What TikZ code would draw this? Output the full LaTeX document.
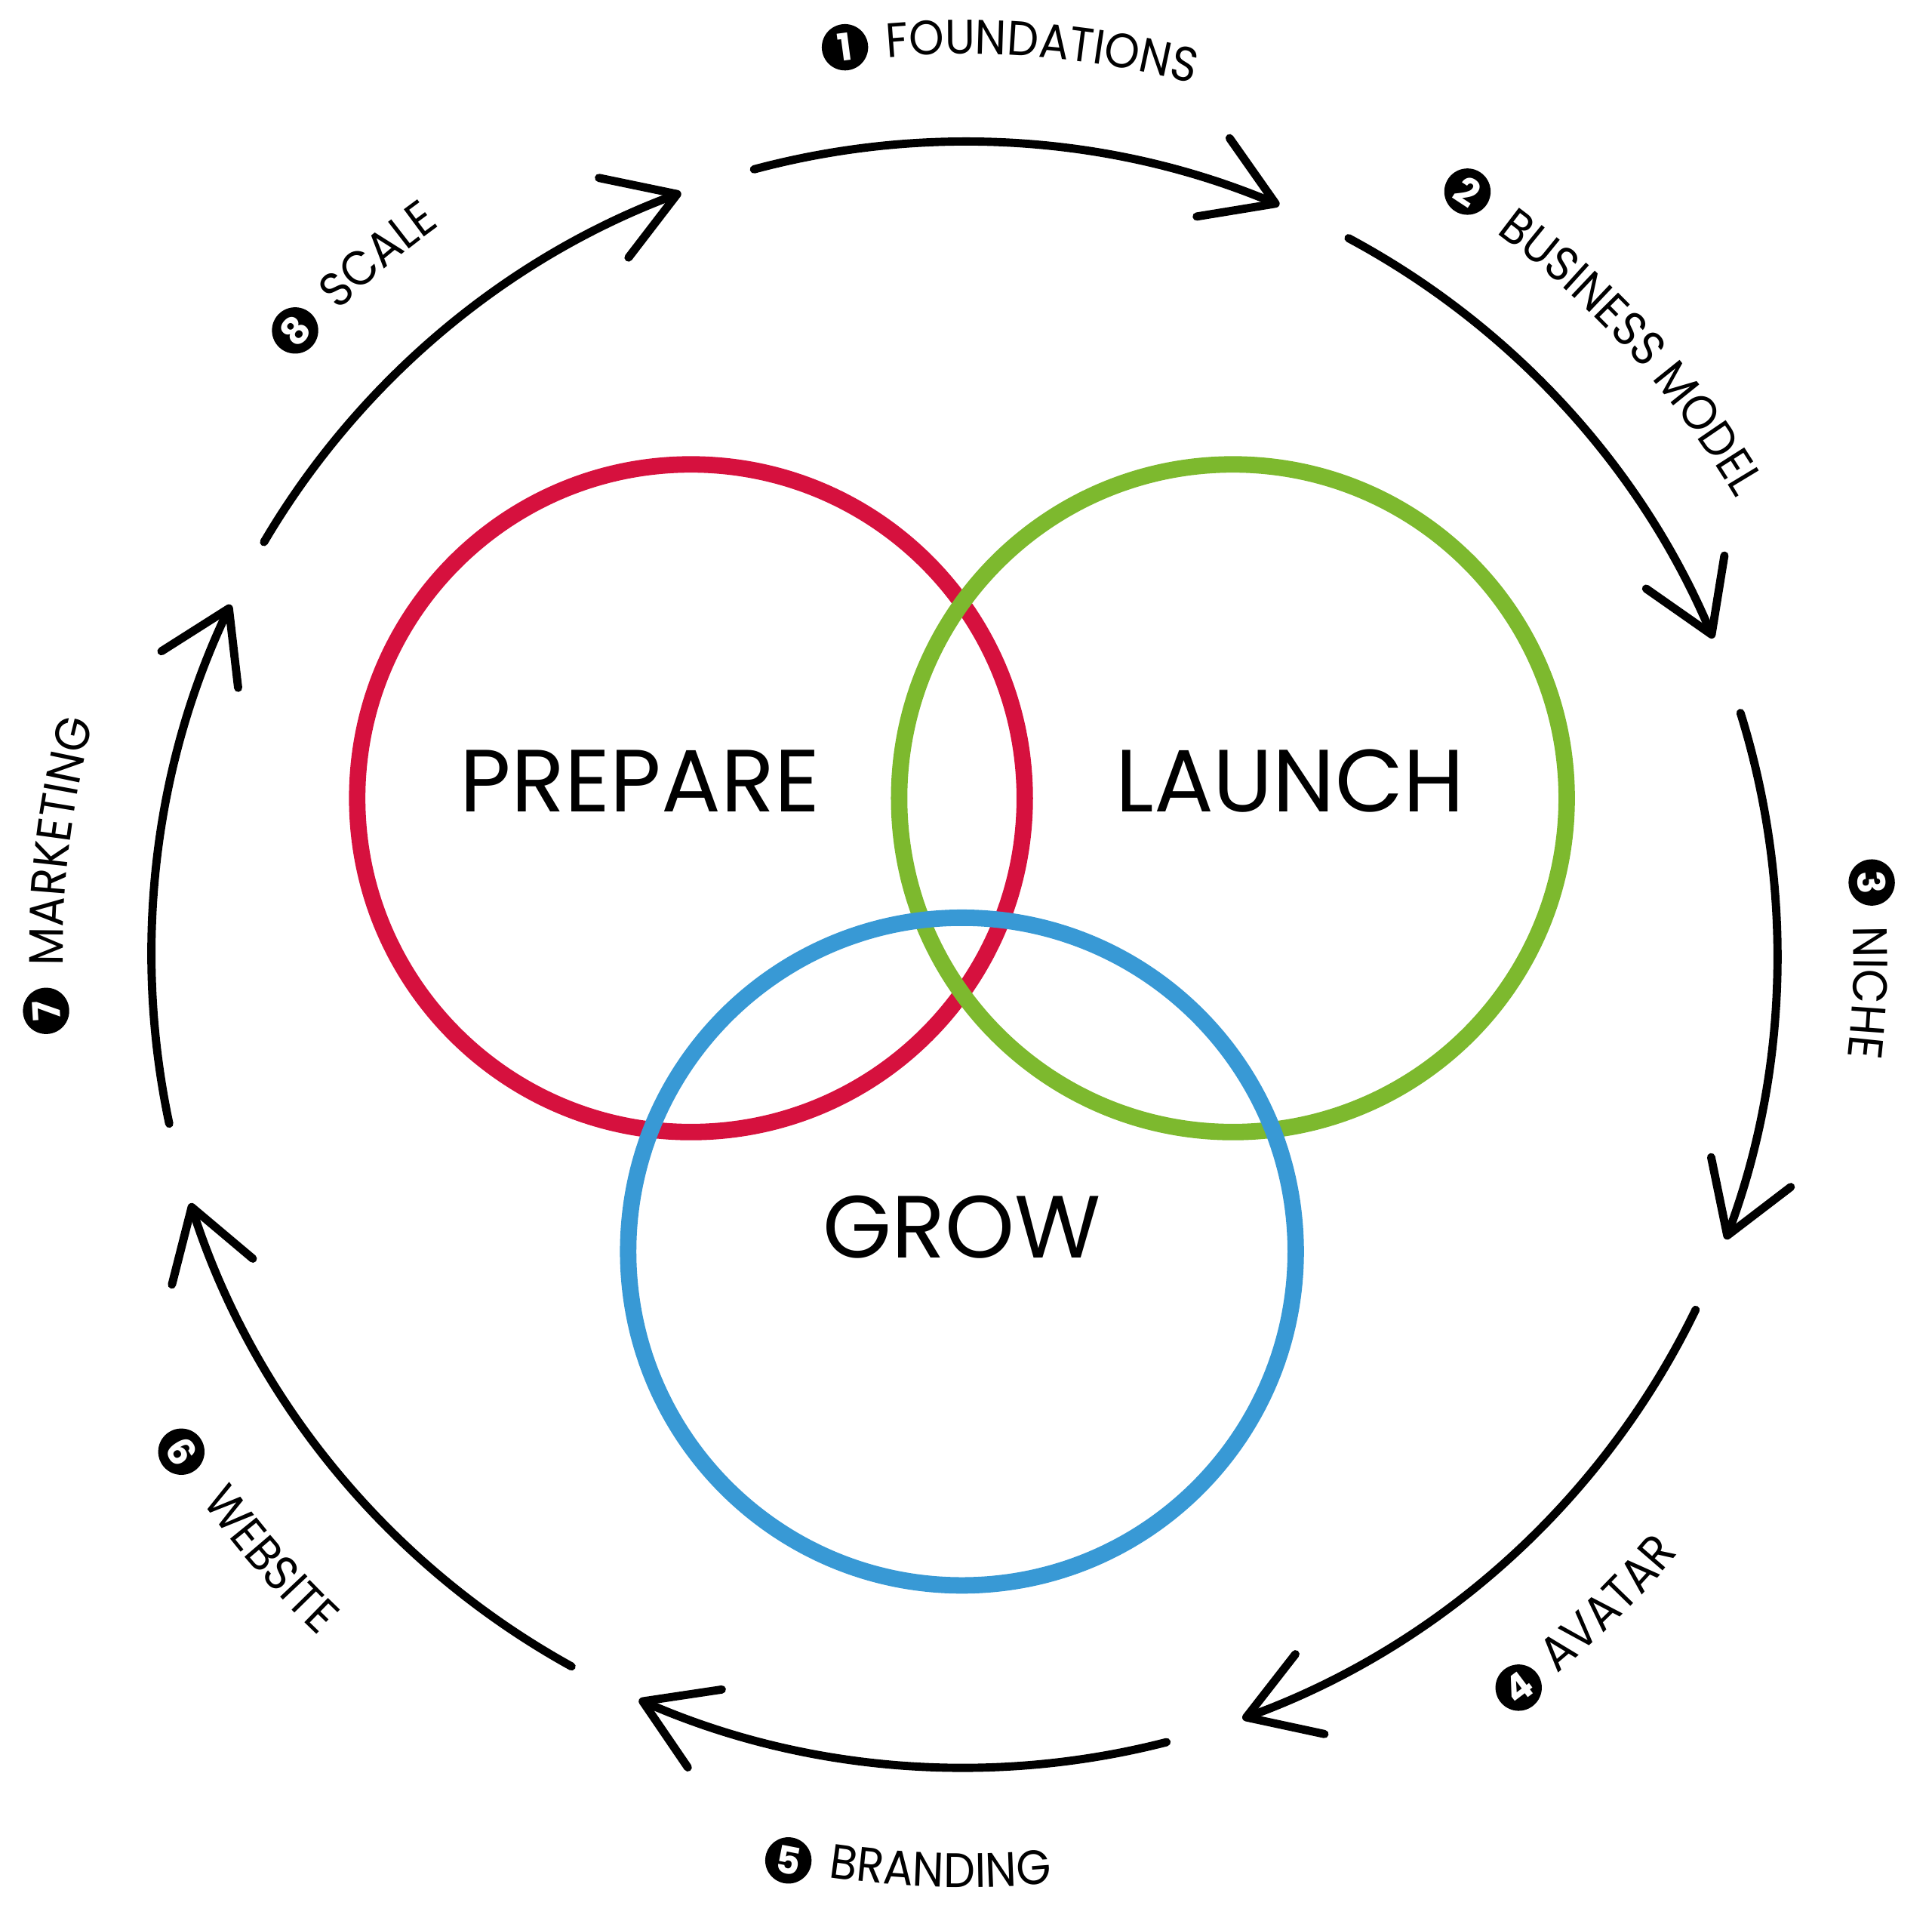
\documentclass[tikz,border=0pt]{standalone}
\usepackage{fontspec}
\setmainfont{Poppins}
\newfontfamily\steplabelfont{Poppins}[FakeStretch=0.92]
\usetikzlibrary{arrows.meta,decorations.text}

\definecolor{preparered}{RGB}{214,17,62}
\definecolor{launchgreen}{RGB}{125,185,46}
\definecolor{growblue}{RGB}{56,153,213}

\newcommand{\stepfont}{\steplabelfont\fontsize{11.2}{13}\selectfont}

\begin{document}
\begin{tikzpicture}

\tikzset{ring/.style = {shape=circle,draw,line width=3.8pt,minimum size=5.42cm,inner sep=0pt}}
\tikzset{word/.style = {anchor=base,inner sep=0pt,font=\fontsize{20.4}{24}\selectfont}}
\tikzset{badge/.style = {shape=circle,fill=black,text=white,inner sep=0pt,minimum size=3.76mm,font=\bfseries\fontsize{8.7}{9}\selectfont}}
\tikzset{cycle/.style = {line width=1.9pt,line cap=round,-{Straight Barb[length=5.5mm,width=6.9mm,round]}}}
\tikzset{steptext/.style = {decorate,decoration={text along path,text align=left,text={|\stepfont|#1}}}}

\useasboundingbox (-7.83,-7.863) rectangle (7.856,7.75);

% circles
\node[ring,preparered] (prepare) at (-2.22,1.27) {};
\node[ring,launchgreen] (launch) at (2.18,1.27) {};
\node[ring,growblue] (grow) at (-0.02,-2.41) {};

% words
\node[word] (preparetext) at (-2.635,1.158) {PREPARE};
\node[word] (launchtext) at (2.645,1.158) {LAUNCH};
\node[word] (growtext) at (-0.02,-2.46) {GROW};

%arrows
\coordinate (s1) at (105:6.6);
\coordinate (s2) at (61.8:6.6);
\coordinate (s3) at (17.3:6.6);
\coordinate (s4) at (-25.9:6.6);
\coordinate (s5) at (-75.6:6.6);
\coordinate (s6) at (-118.9:6.6);
\coordinate (s7) at (-168:6.6);
\coordinate (s8) at (149.5:6.6);

\draw[cycle] (s1) arc[start angle=105,end angle=67.2,radius=6.6];
\draw[cycle] (s2) arc[start angle=61.8,end angle=22.9,radius=6.6];
\draw[cycle] (s3) arc[start angle=17.3,end angle=-20.5,radius=6.6];
\draw[cycle] (s4) arc[start angle=-25.9,end angle=-70,radius=6.6];
\draw[cycle] (s5) arc[start angle=-75.6,end angle=-113.6,radius=6.6];
\draw[cycle] (s6) arc[start angle=-118.9,end angle=-162.2,radius=6.6];
\draw[cycle] (s7) arc[start angle=-168,end angle=-205.5,radius=6.6];
\draw[cycle] (s8) arc[start angle=149.5,end angle=110.4,radius=6.6];

% badges
\node[badge,rotate=7.5] (n1) at (97.5:7.43) {1};
\node[badge,rotate=-33.4] (n2) at (56.6:7.42) {2};
\node[badge,rotate=-85.45] (n3) at (4.55:7.39) {3};
\node[badge,rotate=37.1] (n4) at (-52.9:7.46) {4};
\node[badge,rotate=-11] (n5) at (-101:7.49) {5};
\node[badge,rotate=-57.6] (n6) at (212.4:7.53) {6};
\node[badge,rotate=93.5] (n7) at (183.5:7.47) {7};
\node[badge,rotate=47] (n8) at (137:7.43) {8};

% labels
\coordinate (l1) at (94.9:7.31);
\coordinate (l2) at (53.6:7.28);
\coordinate (l3) at (1.8:7.22);
\coordinate (l4) at (-50.5:7.565);
\coordinate (l5) at (-98.4:7.57);
\coordinate (l6) at (215.65:7.62);
\coordinate (l7) at (180.7:7.32);
\coordinate (l8) at (134.2:7.29);

\path[steptext=FOUNDATIONS] (l1) arc[start angle=94.9,end angle=60,radius=7.31];
\path[steptext=BUSINESS MODEL] (l2) arc[start angle=53.6,end angle=10,radius=7.28];
\path[steptext=NICHE] (l3) arc[start angle=1.8,end angle=-30,radius=7.22];
\path[steptext=AVATAR] (l4) arc[start angle=-50.5,end angle=-20,radius=7.565];
\path[steptext=BRANDING] (l5) arc[start angle=-98.4,end angle=-60,radius=7.57];
\path[steptext=WEBSITE] (l6) arc[start angle=215.65,end angle=250,radius=7.62];
\path[steptext=MARKETING] (l7) arc[start angle=180.7,end angle=145,radius=7.32];
\path[steptext=SCALE] (l8) arc[start angle=134.2,end angle=100,radius=7.29];

\end{tikzpicture}
\end{document}
